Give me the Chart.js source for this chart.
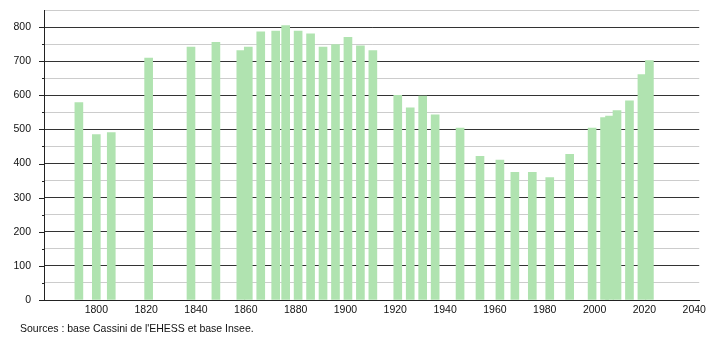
<!DOCTYPE html>
<html>
<head>
<meta charset="utf-8">
<script src="https://cdn.jsdelivr.net/npm/chart.js@4"></script>
<style>
  body { margin: 0; background: #fff; }
  #wrap { position: relative; width: 710px; height: 340px; }
  #source { position: absolute; left: 20px; top: 322px; font: 10.5px "Liberation Sans", Arial, sans-serif; color: #111; }
</style>
</head>
<body>
<div id="wrap">
  <canvas id="chart" width="710" height="340"></canvas>
  <div id="source">Sources : base Cassini de l'EHESS et base Insee.</div>
</div>
<script>
// années de recensement et population
var annees = [1793, 1800, 1806, 1821, 1838, 1848, 1858, 1861, 1866, 1872, 1876, 1881, 1886, 1891, 1896, 1901, 1906, 1911,
  1921, 1926, 1931, 1936, 1946, 1954, 1962, 1968, 1975, 1982, 1990, 1999, 2004, 2006, 2009, 2014, 2019, 2022];
var population = [579, 485, 491, 709, 741, 755, 731, 741, 786, 788, 804, 788, 780, 741, 749, 770, 745, 731,
  600, 563, 598, 543, 504, 421, 410, 374, 374, 359, 427, 504, 535, 539, 555, 584, 661, 702];
var ticksX = [1800, 1820, 1840, 1860, 1880, 1900, 1920, 1940, 1960, 1980, 2000, 2020, 2040];
var ticksY = [0, 100, 200, 300, 400, 500, 600, 700, 800];

var points = [];
for (let i = 0; i < annees.length; i++) {
  points.push({ x: annees[i], y: population[i] });
}

//! petites graduations de l'axe Y
const tickMarks = {
  id: "tickMarks",
  afterDraw(chart) {
    const ctx = chart.ctx;
    const y = chart.scales.y;
    ctx.save();
    ctx.strokeStyle = "#222";
    ctx.lineWidth = 1;
    for (let v = 0; v < 850; v += 50) {
      const py = Math.round(y.getPixelForValue(v)) + 0.5;
      const len = v % 100 == 0 ? 5 : 2;
      ctx.beginPath();
      ctx.moveTo(y.right - len, py);
      ctx.lineTo(y.right, py);
      ctx.stroke();
    }
    ctx.restore();
  }
};

const font = { family: "'Liberation Sans', Arial, sans-serif", size: 10.5 };

const config = {
  type: "bar",
  data: {
    datasets: [{
      data: points,
      backgroundColor: "rgb(176, 227, 176)",
      borderWidth: 0,
      barThickness: 8
    }]
  },
  options: {
    responsive: false,
    animation: false,
    devicePixelRatio: 1,
    layout: { padding: { top: 10, right: 10, left: 0, bottom: 0 } },
    plugins: { legend: { display: false }, tooltip: { enabled: false } },
    scales: {
      x: {
        type: "linear",
        offset: false,
        min: 1779,
        max: 2042,
        afterFit: (s) => { s.height = 40; },
        afterBuildTicks: (s) => { s.ticks = ticksX.map((v) => ({ value: v })); },
        grid: { display: false, drawTicks: false, offset: false },
        border: { display: true, color: "#222" },
        ticks: { font: font, color: "#111", padding: 4, maxRotation: 0, callback: (v) => v }
      },
      y: {
        min: 0,
        max: 850,
        afterFit: (s) => { s.width = 44; s.paddingTop = 0; s.paddingBottom = 0; },
        afterBuildTicks: (s) => {
          var t = [];
          for (let v = 0; v <= 850; v += 50) t.push({ value: v });
          s.ticks = t;
        },
        grid: {
          drawTicks: false,
          color: (c) => (c.tick && c.tick.value % 100 == 0 ? "#333" : "#ccc")
        },
        border: { display: true, color: "#222" },
        ticks: {
          font: font,
          color: "#111",
          padding: 13,
          callback: (v) => (ticksY.includes(v) ? v : "")
        }
      }
    }
  },
  plugins: [tickMarks]
};

const myChart = new Chart(document.getElementById("chart"), config);
</script>
</body>
</html>
